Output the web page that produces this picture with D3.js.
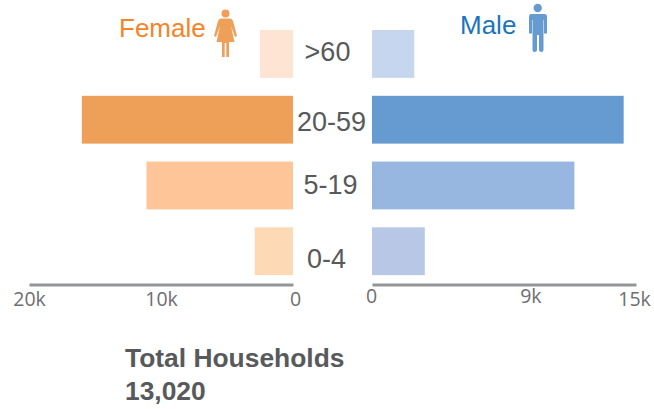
<!DOCTYPE html>
<html><head><meta charset="utf-8">
<script src="https://cdn.jsdelivr.net/npm/d3@7"></script>
<style>html,body{margin:0;padding:0;background:#fff}svg{display:block}</style>
</head><body><svg id="c" width="654" height="409"></svg>
<script>
const ageGroups = [">60", "20-59", "5-19", "0-4"];
const femaleValues = [2500, 16000, 11100, 2900];
const maleValues = [2400, 14300, 11500, 3000];
const femaleColors = ["#fee4d2", "#ee9f58", "#fec598", "#fdd9b5"];
const maleColors = ["#c6d6ee", "#669bd2", "#98b7e0", "#b8c7e5"];
const femaleTicks = [20000, 10000, 0];
const maleTicks = [0, 9000, 15000];
const fmt = v => v === 0 ? "0" : (v / 1000) + "k";

const svg = d3.select("#c");
const xF = d3.scaleLinear().domain([0, 20000]).range([293, 29]);
const xM = d3.scaleLinear().domain([0, 15000]).range([372, 636]);
const y = d3.scaleBand().domain(ageGroups).range([21.1, 284.1]).paddingInner(0.273).paddingOuter(0.136);
const sans = "'Liberation Sans', Arial, sans-serif";

svg.append("g").selectAll("rect").data(ageGroups).join("rect")
  .attr("x", (d, i) => xF(femaleValues[i])).attr("y", d => y(d))
  .attr("width", (d, i) => xF(0) - xF(femaleValues[i])).attr("height", y.bandwidth())
  .attr("fill", (d, i) => femaleColors[i]);
svg.append("g").selectAll("rect").data(ageGroups).join("rect")
  .attr("x", xM(0)).attr("y", d => y(d))
  .attr("width", (d, i) => xM(maleValues[i]) - xM(0)).attr("height", y.bandwidth())
  .attr("fill", (d, i) => maleColors[i]);

// The age labels sit unevenly against their bars in the original.
const labelShiftY = [-2, 2, 0, 7.5];
const labelShiftX = [-4, 0, -1, -5];
svg.append("g").selectAll("text").data(ageGroups).join("text")
  .attr("x", (d, i) => 331.5 + labelShiftX[i]).attr("y", (d, i) => y(d) + y.bandwidth() / 2 + 9 + labelShiftY[i])
  .attr("text-anchor", "middle").attr("font-family", sans).attr("font-size", 27).attr("fill", "#58595b")
  .text(d => d);

function drawAxis(scale, ticks, baseline, dx) {
  const g = svg.append("g").attr("transform", "translate(0,284.4)")
    .call(d3.axisBottom(scale).tickValues(ticks).tickFormat(fmt).tickSize(0));
  g.select(".domain").attr("stroke", "#939598").attr("stroke-width", 3);
  g.selectAll("text").attr("font-family", "'Open Sans', sans-serif").attr("font-size", 19.5).attr("fill", "#6d6e71")
    .attr("dy", null).attr("y", (d, i) => baseline[i]).attr("x", (d, i) => dx[i]);
  return g;
}
drawAxis(xF, femaleTicks, [21.6, 21.6, 21.6], [0, 0, 2]);
drawAxis(xM, maleTicks, [18.6, 18.6, 21.6], [-1, 0, -2]);

svg.append("text").attr("x", 119).attr("y", 37).attr("font-family", sans).attr("font-size", 26).attr("fill", "#f58426").text("Female");
svg.append("text").attr("x", 460).attr("y", 34).attr("font-family", sans).attr("font-size", 26).attr("fill", "#1b75bc").text("Male");

const fi = svg.append("g").attr("fill", "#ee9f58");
fi.append("circle").attr("cx", 225.5).attr("cy", 13.5).attr("r", 4);
fi.append("path").attr("d", "M221,18.5 H230 Q232,18.5 233,21 L237,36 L235,37 L231,26 L234.5,42 H229 V57 H226.3 V43 H224.7 V57 H222 V42 H216.5 L220,26 L216,37 L214,36 L218,21 Q219,18.5 221,18.5 Z");

const mi = svg.append("g").attr("fill", "#669bd2");
mi.append("circle").attr("cx", 537.7).attr("cy", 8).attr("r", 4.2);
mi.append("path").attr("d", "M531,14 H544.5 Q547,14 547,17 V33.5 H544 V20 H543.5 V50 Q543.5,52 541.5,52 Q539,52 539,50 V35 H537 V50 Q537,52 534.5,52 Q532.5,52 532.5,50 V20 H532 V33.5 H529 V17 Q529,14 531,14 Z");

const total = svg.append("g").attr("font-family", sans).attr("font-size", 26.4).attr("font-weight", "bold").attr("fill", "#58595b");
total.append("text").attr("x", 125).attr("y", 367).text("Total Households");
total.append("text").attr("x", 125).attr("y", 400).text("13,020");
</script></body></html>
